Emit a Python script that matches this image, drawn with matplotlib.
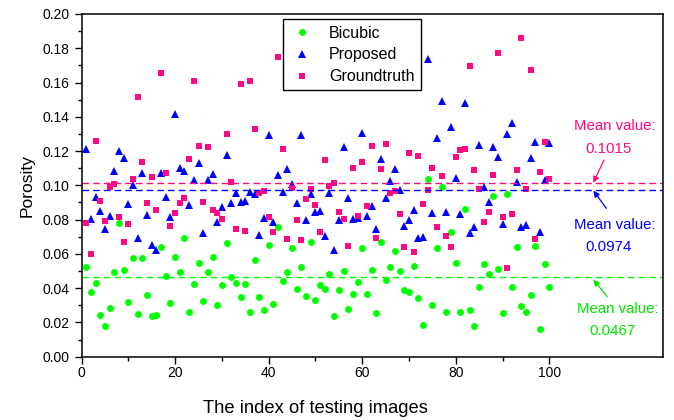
import numpy as np
import matplotlib
matplotlib.use("Agg")
import matplotlib.pyplot as plt
from matplotlib.ticker import MultipleLocator

plt.rcParams['font.family'] = ['Liberation Sans', 'DejaVu Sans']
plt.rcParams['lines.scale_dashes'] = False

# image index 1..100
idx = np.arange(1, 101)

bicubic = [0.0525, 0.0376, 0.0430, 0.0243, 0.0181, 0.0282, 0.0496, 0.0778, 0.0508, 0.0321,
           0.0576, 0.0251, 0.0578, 0.0360, 0.0237, 0.0241, 0.0638, 0.0471, 0.0311, 0.0582,
           0.0496, 0.0695, 0.0263, 0.0424, 0.0547, 0.0325, 0.0496, 0.0584, 0.0304, 0.0416,
           0.0662, 0.0467, 0.0432, 0.0346, 0.0424, 0.0263, 0.0566, 0.0350, 0.0274, 0.0654,
           0.0307, 0.0757, 0.0442, 0.0496, 0.0632, 0.0397, 0.0525, 0.0354, 0.0667, 0.0331,
           0.0418, 0.0393, 0.0483, 0.0239, 0.0387, 0.0502, 0.0276, 0.0368, 0.0436, 0.0634,
           0.0368, 0.0508, 0.0255, 0.0667, 0.0450, 0.0523, 0.0619, 0.0502, 0.0389, 0.0378,
           0.0527, 0.0342, 0.0183, 0.1035, 0.0302, 0.0634, 0.0992, 0.0263, 0.0728, 0.0547,
           0.0259, 0.0864, 0.0272, 0.0179, 0.0409, 0.0541, 0.0483, 0.0938, 0.0514, 0.0255,
           0.0948, 0.0409, 0.0640, 0.0294, 0.0263, 0.0362, 0.0644, 0.0160, 0.0541, 0.0409]

proposed = [0.1214, 0.0806, 0.0932, 0.0848, 0.0745, 0.0819, 0.1082, 0.1199, 0.1162, 0.0891,
            0.1002, 0.0695, 0.1072, 0.0825, 0.0652, 0.0621, 0.1070, 0.0934, 0.0813, 0.1419,
            0.1103, 0.1086, 0.0885, 0.1029, 0.1131, 0.0724, 0.1031, 0.1064, 0.0786, 0.0876,
            0.1179, 0.0897, 0.0955, 0.0905, 0.0909, 0.0963, 0.0952, 0.0712, 0.0810, 0.1296,
            0.0784, 0.1059, 0.0963, 0.1096, 0.1006, 0.0895, 0.1292, 0.0796, 0.0948, 0.0843,
            0.0850, 0.0706, 0.0954, 0.0625, 0.0796, 0.1222, 0.0924, 0.0804, 0.0808, 0.1307,
            0.0821, 0.0882, 0.0743, 0.1152, 0.0928, 0.1027, 0.1098, 0.0975, 0.0765, 0.0800,
            0.0858, 0.0690, 0.0700, 0.1736, 0.0841, 0.1275, 0.1491, 0.0845, 0.1343, 0.1043,
            0.0835, 0.1481, 0.0724, 0.0759, 0.1236, 0.0989, 0.0903, 0.1222, 0.1164, 0.0776,
            0.1300, 0.1364, 0.1018, 0.0755, 0.0771, 0.1160, 0.1255, 0.0728, 0.1031, 0.1247]

groundtruth = [0.0782, 0.0599, 0.1257, 0.0907, 0.0790, 0.0991, 0.1008, 0.0815, 0.0669, 0.0776,
               0.1035, 0.1518, 0.1135, 0.0897, 0.1049, 0.0854, 0.1655, 0.1072, 0.0763, 0.0837,
               0.0899, 0.0926, 0.1156, 0.1609, 0.1228, 0.0905, 0.1222, 0.0856, 0.0839, 0.0806,
               0.1298, 0.1022, 0.0743, 0.1589, 0.0734, 0.1609, 0.1329, 0.0955, 0.0969, 0.0815,
               0.0726, 0.1749, 0.1210, 0.0685, 0.0987, 0.0800, 0.0679, 0.0919, 0.0977, 0.0887,
               0.0726, 0.1150, 0.0994, 0.1016, 0.0844, 0.0806, 0.0646, 0.1100, 0.0821, 0.1135,
               0.0880, 0.1230, 0.0695, 0.1096, 0.1240, 0.0955, 0.0967, 0.0833, 0.0640, 0.1189,
               0.0609, 0.1170, 0.0893, 0.0971, 0.1100, 0.0759, 0.1055, 0.0702, 0.0638, 0.1164,
               0.1207, 0.1214, 0.1697, 0.1090, 0.0977, 0.0788, 0.0847, 0.1063, 0.1775, 0.0813,
               0.0520, 0.0831, 0.1090, 0.1860, 0.0977, 0.1676, 0.0689, 0.1080, 0.1251, 0.1037]

mean_gt = 0.1015
mean_prop = 0.0974
mean_bic = 0.0467

pink = '#ff0a84'
blue = '#0000ff'
green = '#00ff00'
green_txt = '#00e600'

fig = plt.figure(figsize=(6.74, 4.2), dpi=100)
ax = fig.add_axes([0.121, 0.1507, 0.862, 0.816])

ax.plot(idx, bicubic, 'o', color=green, markersize=5, markeredgewidth=0, label='Bicubic')
ax.plot(idx, proposed, '^', color=blue, markersize=6, markeredgewidth=0, label='Proposed')
ax.plot(idx, groundtruth, 's', color=pink, markersize=4.6, markeredgewidth=0, label='Groundtruth')

ax.axhline(mean_gt, color=pink, lw=1.0, dashes=(4.8, 2.9))
ax.axhline(mean_prop, color=blue, lw=1.0, dashes=(4.8, 2.9))
ax.axhline(mean_bic, color=green, lw=1.0, dashes=(4.8, 2.9))

arrow = dict(arrowstyle='-|>', lw=0.9, mutation_scale=9, shrinkA=0, shrinkB=0)
ax.annotate('', xy=(109.4, 0.1015), xytext=(111.7, 0.1148), arrowprops=dict(arrow, color=pink))
ax.annotate('', xy=(109.4, 0.0969), xytext=(112.2, 0.0866), arrowprops=dict(arrow, color=blue))
ax.annotate('', xy=(109.4, 0.0450), xytext=(112.4, 0.0350), arrowprops=dict(arrow, color=green_txt))

fs = 10.8
ax.text(114.0, 0.1348, 'Mean value:', color=pink, fontsize=fs, ha='center', va='center')
ax.text(112.6, 0.1210, '0.1015', color=pink, fontsize=fs, ha='center', va='center')
ax.text(114.0, 0.0769, 'Mean value:', color=blue, fontsize=fs, ha='center', va='center')
ax.text(112.7, 0.0638, '0.0974', color=blue, fontsize=fs, ha='center', va='center')
ax.text(114.6, 0.0277, 'Mean value:', color=green_txt, fontsize=fs, ha='center', va='center')
ax.text(113.5, 0.0150, '0.0467', color=green_txt, fontsize=fs, ha='center', va='center')

ax.set_xlim(0, 124.2)
ax.set_ylim(0, 0.2)
ax.set_xticks([0, 20, 40, 60, 80, 100])
ax.set_xticks([10, 30, 50, 70, 90], minor=True)
ax.yaxis.set_major_locator(MultipleLocator(0.02))
ax.yaxis.set_minor_locator(MultipleLocator(0.01))
ax.yaxis.set_major_formatter(matplotlib.ticker.FormatStrFormatter('%.2f'))
ax.tick_params(which='major', direction='out', length=5, width=1, labelsize=10, top=False, right=False)
ax.tick_params(axis='x', which='major', pad=2)
ax.tick_params(which='minor', direction='out', length=3, width=1, top=False, right=False)
for s in ax.spines.values():
    s.set_linewidth(1.1)

ax.set_xlabel('The index of testing images', fontsize=13.2)
ax.xaxis.set_label_coords(50 / 124.2, -0.125)
ax.set_ylabel('Porosity', fontsize=12.5, labelpad=6)

leg = ax.legend(loc='upper left', bbox_to_anchor=(0.346, 0.9845), fontsize=11.5,
                frameon=True, fancybox=False, edgecolor='black', framealpha=1,
                borderpad=0.4, handletextpad=0.9, labelspacing=0.42, handlelength=1.6,
                borderaxespad=0)
leg.get_frame().set_linewidth(1.0)

fig.savefig('out.png', dpi=100)
